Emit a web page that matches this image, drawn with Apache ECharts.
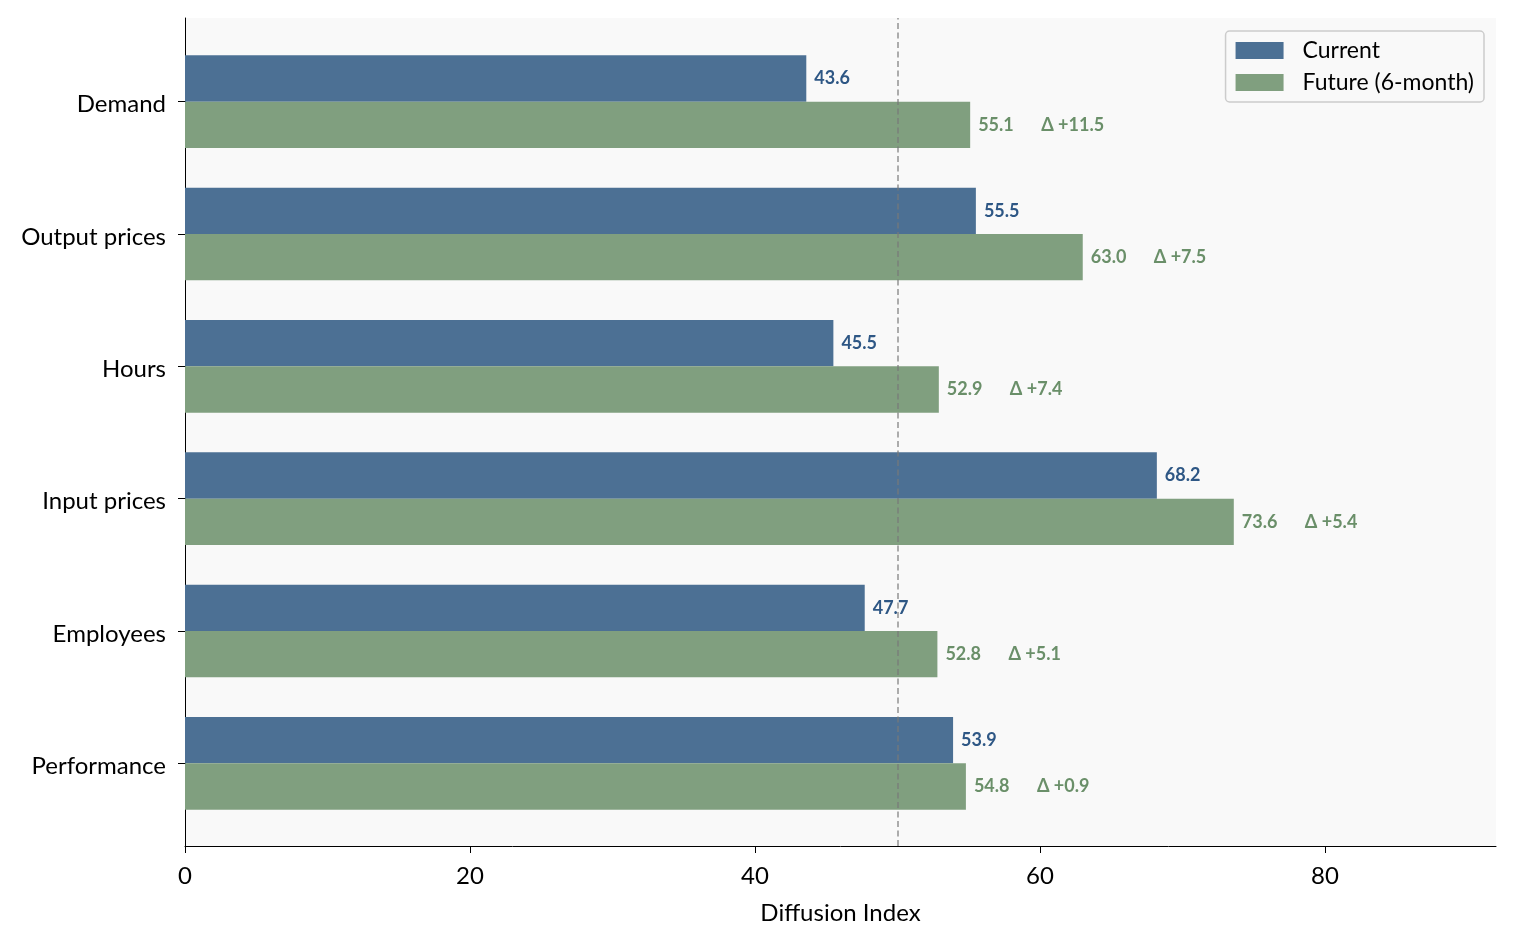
<!DOCTYPE html>
<html>
<head>
<meta charset="utf-8">
<script src="https://cdn.jsdelivr.net/npm/echarts@6/dist/echarts.min.js"></script>
<style>
html,body{margin:0;padding:0;background:#fff;}
#chart{width:1515px;height:944px;}
</style>
</head>
<body>
<div id="chart"></div>
<script>
var categories = ['Demand', 'Output prices', 'Hours', 'Input prices', 'Employees', 'Performance'];
var currentValues = [43.6, 55.5, 45.5, 68.2, 47.7, 53.9];
var futureValues = [55.1, 63.0, 52.9, 73.6, 52.8, 54.8];
var xTicks = [0, 20, 40, 60, 80];
var neutralLine = 50;

var FONT = 'Lato';
var chart = echarts.init(document.getElementById('chart'), null, {renderer: 'canvas'});

var deltas = futureValues.map(function (f, i) { return f - currentValues[i]; });

var option = {
  animation: false,
  backgroundColor: '#ffffff',
  textStyle: {fontFamily: FONT},
  legend: {
    orient: 'vertical',
    right: 31,
    top: 31,
    padding: [8, 10, 8, 10],
    itemWidth: 48,
    itemHeight: 17,
    itemGap: 9,
    icon: 'rect',
    backgroundColor: 'rgba(249,249,249,0.85)',
    borderColor: '#cccccc',
    borderWidth: 1.5,
    borderRadius: 4,
    textStyle: {fontFamily: FONT, fontSize: 23, color: '#000', padding: [0, 0, 0, 14]},
    data: ['Current', 'Future (6-month)']
  },
  grid: [
    {left: 185, right: 19, top: 18, bottom: 98, show: true, backgroundColor: '#f9f9f9', borderWidth: 0},
    {left: 185, right: 19, top: 35.5, bottom: 114.5}
  ],
  xAxis: [
    {
      gridIndex: 0, type: 'value', min: 0, max: 92, interval: 20,
      name: 'Diffusion Index', nameLocation: 'middle', nameGap: 55,
      nameTextStyle: {fontFamily: FONT, fontSize: 24, color: '#000'},
      axisLine: {show: true, lineStyle: {color: '#000', width: 1}},
      axisTick: {show: true, length: 7, customValues: xTicks, lineStyle: {color: '#000', width: 1}},
      axisLabel: {fontFamily: FONT, fontSize: 24, color: '#000', margin: 18, customValues: xTicks},
      splitLine: {show: false}
    },
    {
      gridIndex: 1, type: 'value', min: 0, max: 92, show: false
    }
  ],
  yAxis: [
    {
      gridIndex: 0, type: 'value', min: 0, max: 1,
      axisLine: {show: true, lineStyle: {color: '#000', width: 1}},
      axisTick: {show: false}, axisLabel: {show: false}, splitLine: {show: false}
    },
    {
      gridIndex: 1, type: 'category', data: categories, inverse: true,
      axisLine: {show: false},
      axisTick: {show: true, alignWithLabel: true, length: 7, lineStyle: {color: '#000', width: 1}},
      axisLabel: {
        fontFamily: FONT, fontSize: 24, color: '#000', margin: 19,
        formatter: function (v) { return '{c|' + v + '}'; },
        rich: {c: {fontFamily: FONT, fontSize: 24, color: '#000', padding: [6, 0, 0, 0]}}
      },
      splitLine: {show: false}
    }
  ],
  series: [
    {
      name: 'Current', type: 'bar', xAxisIndex: 1, yAxisIndex: 1,
      data: currentValues, barWidth: 46.3, barGap: '0%', z: 2,
      itemStyle: {color: '#4c7094'},
      label: {
        show: true, position: 'right', distance: 8,
        fontFamily: FONT, fontSize: 18, fontWeight: 'bold', color: '#2e5785',
        formatter: function (p) { return p.value.toFixed(1); }
      }
    },
    {
      name: 'Future (6-month)', type: 'bar', xAxisIndex: 1, yAxisIndex: 1,
      data: futureValues, barWidth: 46.3, barGap: '0%', z: 2,
      itemStyle: {color: '#809f7f'},
      label: {
        show: true, position: 'right', distance: 8,
        fontFamily: FONT, fontSize: 18, fontWeight: 'bold', color: '#6a8f69',
        formatter: function (p) {
          var d = deltas[p.dataIndex];
          return '{v|' + p.value.toFixed(1) + '}{d|\u0394 ' + (d >= 0 ? '+' : '') + d.toFixed(1) + '}';
        },
        rich: {
          v: {width: 63, fontFamily: FONT, fontSize: 18, fontWeight: 'bold', color: '#6a8f69'},
          d: {fontFamily: FONT, fontSize: 18, fontWeight: 'bold', color: '#6a8f69'}
        }
      }
    },
    {
      name: 'ref', type: 'line', xAxisIndex: 0, yAxisIndex: 0, data: [], z: 5,
      silent: true,
      markLine: {
        silent: true, symbol: 'none', z: 5,
        label: {show: false},
        lineStyle: {color: 'rgba(120,120,120,0.6)', type: [6, 3.5], width: 2},
        data: [{xAxis: neutralLine}]
      }
    }
  ]
};
chart.setOption(option);
</script>
</body>
</html>
